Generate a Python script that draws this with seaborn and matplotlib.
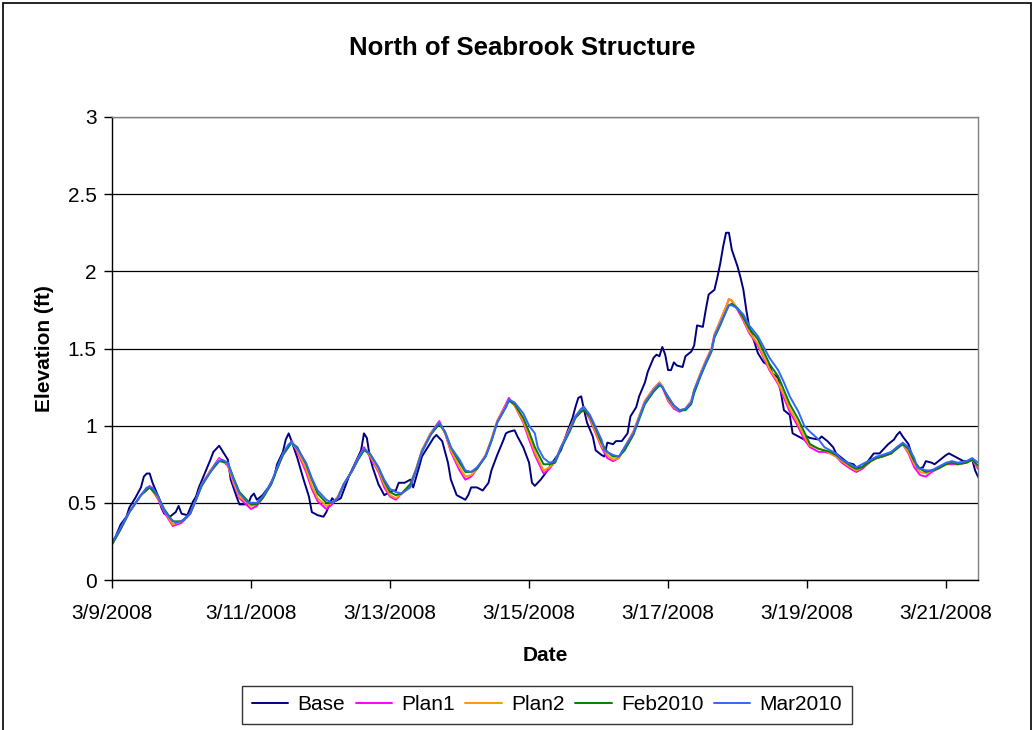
import matplotlib
matplotlib.use("Agg")
import matplotlib.pyplot as plt
from matplotlib.patches import Rectangle
from matplotlib.ticker import FuncFormatter, MultipleLocator
import numpy as np
import pandas as pd
import seaborn as sns

START = pd.Timestamp("2008-03-09 00:00")

# ---- Base: (hours after start, elevation ft) ----
base_hours = [0, 1, 3, 5, 6, 8, 10, 11, 12, 13, 14, 16, 17, 18, 20, 22, 23, 24, 26, 28,
              29, 30, 32, 34, 35, 37, 38, 40, 41, 43, 44, 47, 48, 49, 50, 52, 54, 56, 57, 59,
              60, 61, 62, 64, 66, 68, 69, 71, 73, 74, 76, 77, 79, 80, 82, 84, 86, 87, 88, 89,
              90, 92, 94, 95, 97, 98, 99, 101, 103, 104, 106, 107, 109, 111, 112, 114, 116, 117, 119, 121,
              122, 123, 124, 126, 128, 130, 131, 133, 135, 136, 137, 139, 140, 142, 144, 145, 146, 148, 150, 152,
              155, 157, 159, 160, 161, 162, 163, 164, 166, 167, 169, 170, 171, 173, 174, 176, 178, 179, 181, 182,
              184, 185, 187, 188, 189, 190, 191, 192, 193, 194, 195, 197, 198, 200, 201, 202, 204, 205, 206, 208,
              209, 210, 211, 212, 213, 214, 216, 217, 218, 219, 220, 222, 223, 225, 227, 228, 230, 231, 232, 234,
              235, 237, 239, 240, 241, 244, 245, 247, 249, 250, 252, 254, 256, 257, 259, 261, 263, 265, 266, 268,
              270, 271, 272, 273, 275, 276, 277, 278, 280, 281, 283, 284, 286, 288, 289, 291, 293, 294, 296, 297,
              298, 299, 300]
base_vals = [0.26, 0.27, 0.36, 0.41, 0.47, 0.53, 0.60, 0.67, 0.69, 0.69, 0.63, 0.54, 0.47, 0.43, 0.41, 0.44, 0.48, 0.43, 0.42, 0.51,
             0.54, 0.60, 0.69, 0.78, 0.83, 0.87, 0.84, 0.78, 0.65, 0.54, 0.49, 0.49, 0.54, 0.56, 0.52, 0.55, 0.60, 0.67, 0.75, 0.83,
             0.91, 0.95, 0.90, 0.79, 0.66, 0.54, 0.44, 0.42, 0.41, 0.44, 0.53, 0.51, 0.53, 0.58, 0.68, 0.76, 0.84, 0.95, 0.92, 0.80,
             0.73, 0.62, 0.55, 0.56, 0.58, 0.58, 0.63, 0.63, 0.65, 0.60, 0.73, 0.80, 0.86, 0.92, 0.94, 0.90, 0.76, 0.65, 0.55, 0.53,
             0.52, 0.55, 0.60, 0.60, 0.58, 0.63, 0.71, 0.81, 0.90, 0.95, 0.96, 0.97, 0.93, 0.86, 0.76, 0.63, 0.61, 0.65, 0.70, 0.76,
             0.84, 0.95, 1.05, 1.12, 1.18, 1.19, 1.10, 1.02, 0.93, 0.84, 0.81, 0.80, 0.89, 0.88, 0.90, 0.90, 0.95, 1.06, 1.12, 1.19,
             1.28, 1.35, 1.44, 1.46, 1.45, 1.51, 1.46, 1.36, 1.36, 1.41, 1.39, 1.38, 1.45, 1.48, 1.52, 1.65, 1.64, 1.75, 1.85, 1.88,
             1.96, 2.05, 2.16, 2.25, 2.25, 2.14, 2.03, 1.96, 1.88, 1.75, 1.64, 1.53, 1.47, 1.41, 1.39, 1.34, 1.31, 1.21, 1.10, 1.07,
             0.95, 0.93, 0.91, 0.93, 0.92, 0.91, 0.93, 0.90, 0.86, 0.82, 0.79, 0.76, 0.75, 0.73, 0.73, 0.77, 0.82, 0.82, 0.84, 0.88,
             0.91, 0.94, 0.96, 0.93, 0.88, 0.82, 0.76, 0.72, 0.73, 0.77, 0.76, 0.75, 0.78, 0.81, 0.82, 0.80, 0.78, 0.77, 0.77, 0.78,
             0.71, 0.67, 0.64]

# ---- Plan1 / Plan2 / Feb2010 share one output time step list ----
plan_hours = [0, 3, 6, 10, 13, 16, 18, 21, 24, 27, 29, 31, 34, 37, 40, 42, 44, 48, 50, 52,
              55, 57, 59, 62, 64, 67, 69, 71, 74, 76, 78, 80, 83, 85, 87, 89, 92, 94, 96, 98,
              100, 103, 105, 107, 110, 113, 115, 117, 120, 122, 124, 126, 129, 131, 133, 136, 137, 139, 142, 144,
              146, 149, 151, 153, 155, 158, 160, 162, 163, 165, 167, 169, 171, 173, 175, 177, 180, 182, 184, 187,
              189, 190, 192, 194, 196, 198, 200, 201, 203, 205, 207, 208, 210, 212, 213, 214, 216, 218, 220, 223,
              225, 227, 230, 232, 234, 237, 239, 241, 244, 246, 248, 250, 252, 255, 257, 259, 262, 264, 266, 269,
              271, 273, 275, 277, 279, 281, 283, 285, 288, 290, 292, 295, 297, 299]
plan1_vals = [0.23, 0.33, 0.44, 0.55, 0.61, 0.52, 0.44, 0.35, 0.37, 0.43, 0.52, 0.62, 0.71, 0.79, 0.74, 0.62, 0.53, 0.46, 0.48, 0.53,
              0.63, 0.72, 0.81, 0.90, 0.83, 0.70, 0.59, 0.51, 0.46, 0.49, 0.54, 0.62, 0.71, 0.79, 0.86, 0.80, 0.70, 0.60, 0.54, 0.52,
              0.56, 0.62, 0.72, 0.84, 0.95, 1.03, 0.95, 0.83, 0.71, 0.65, 0.67, 0.72, 0.81, 0.91, 1.03, 1.14, 1.18, 1.13, 1.02, 0.91,
              0.81, 0.69, 0.72, 0.77, 0.86, 0.98, 1.06, 1.10, 1.11, 1.04, 0.95, 0.86, 0.79, 0.77, 0.79, 0.86, 0.96, 1.06, 1.16, 1.24,
              1.28, 1.25, 1.16, 1.11, 1.09, 1.11, 1.16, 1.23, 1.33, 1.42, 1.50, 1.59, 1.68, 1.77, 1.82, 1.81, 1.75, 1.68, 1.60, 1.52,
              1.44, 1.36, 1.27, 1.18, 1.09, 0.99, 0.91, 0.86, 0.83, 0.83, 0.82, 0.80, 0.76, 0.72, 0.70, 0.72, 0.77, 0.79, 0.80, 0.82,
              0.86, 0.88, 0.82, 0.73, 0.68, 0.67, 0.70, 0.72, 0.75, 0.75, 0.75, 0.76, 0.78, 0.72]
plan2_vals = [0.23, 0.33, 0.44, 0.55, 0.60, 0.53, 0.45, 0.36, 0.38, 0.43, 0.52, 0.62, 0.71, 0.78, 0.75, 0.63, 0.54, 0.48, 0.49, 0.53,
              0.63, 0.72, 0.81, 0.89, 0.84, 0.72, 0.61, 0.53, 0.48, 0.50, 0.54, 0.62, 0.71, 0.79, 0.85, 0.81, 0.71, 0.62, 0.55, 0.53,
              0.56, 0.62, 0.72, 0.84, 0.95, 1.02, 0.95, 0.84, 0.73, 0.67, 0.68, 0.72, 0.81, 0.91, 1.03, 1.13, 1.17, 1.13, 1.03, 0.93,
              0.83, 0.71, 0.73, 0.77, 0.86, 0.98, 1.06, 1.11, 1.12, 1.05, 0.96, 0.87, 0.81, 0.78, 0.79, 0.86, 0.96, 1.06, 1.16, 1.24,
              1.28, 1.26, 1.17, 1.12, 1.10, 1.11, 1.16, 1.23, 1.33, 1.42, 1.50, 1.59, 1.68, 1.77, 1.82, 1.81, 1.76, 1.69, 1.61, 1.53,
              1.45, 1.37, 1.28, 1.20, 1.11, 1.01, 0.93, 0.87, 0.85, 0.84, 0.82, 0.80, 0.77, 0.73, 0.71, 0.73, 0.77, 0.79, 0.80, 0.82,
              0.86, 0.88, 0.83, 0.75, 0.70, 0.69, 0.71, 0.72, 0.75, 0.76, 0.75, 0.76, 0.78, 0.73]
feb2010_vals = [0.23, 0.33, 0.44, 0.55, 0.60, 0.54, 0.46, 0.38, 0.38, 0.43, 0.52, 0.61, 0.70, 0.77, 0.76, 0.66, 0.57, 0.49, 0.49, 0.53,
                0.62, 0.72, 0.81, 0.89, 0.86, 0.75, 0.65, 0.56, 0.50, 0.50, 0.53, 0.62, 0.71, 0.78, 0.84, 0.82, 0.73, 0.64, 0.57, 0.55,
                0.56, 0.62, 0.71, 0.83, 0.94, 1.01, 0.96, 0.86, 0.76, 0.70, 0.70, 0.72, 0.80, 0.90, 1.02, 1.12, 1.16, 1.14, 1.05, 0.96,
                0.86, 0.75, 0.75, 0.76, 0.85, 0.96, 1.05, 1.09, 1.10, 1.06, 0.98, 0.89, 0.83, 0.80, 0.80, 0.84, 0.94, 1.04, 1.14, 1.22,
                1.26, 1.25, 1.18, 1.13, 1.10, 1.10, 1.14, 1.21, 1.31, 1.40, 1.48, 1.57, 1.65, 1.74, 1.78, 1.79, 1.76, 1.70, 1.63, 1.56,
                1.48, 1.40, 1.32, 1.23, 1.14, 1.04, 0.96, 0.88, 0.85, 0.84, 0.83, 0.81, 0.78, 0.74, 0.72, 0.73, 0.77, 0.79, 0.80, 0.82,
                0.85, 0.88, 0.85, 0.77, 0.72, 0.70, 0.71, 0.72, 0.75, 0.76, 0.75, 0.76, 0.78, 0.74]

# ---- Mar2010 ----
mar_hours = [0, 3, 6, 10, 12, 14, 16, 18, 20, 22, 25, 27, 29, 31, 34, 36, 38, 40, 42, 44,
             47, 48, 50, 52, 55, 57, 59, 61, 62, 64, 67, 69, 71, 74, 76, 78, 80, 83, 85, 87,
             89, 92, 94, 96, 98, 100, 103, 105, 107, 110, 112, 113, 115, 117, 120, 122, 124, 126, 129, 131,
             133, 136, 137, 139, 142, 144, 146, 147, 149, 151, 153, 155, 158, 160, 162, 163, 165, 167, 169, 170,
             173, 175, 177, 180, 182, 184, 187, 189, 190, 192, 194, 196, 198, 200, 201, 203, 205, 207, 208, 210,
             212, 213, 214, 216, 218, 220, 223, 225, 227, 230, 232, 234, 237, 239, 241, 244, 246, 248, 250, 252,
             255, 257, 259, 262, 264, 266, 269, 271, 273, 275, 277, 278, 281, 283, 285, 288, 290, 292, 295, 297,
             299]
mar2010_vals = [0.24, 0.34, 0.44, 0.55, 0.60, 0.60, 0.54, 0.45, 0.40, 0.37, 0.39, 0.43, 0.52, 0.62, 0.70, 0.76, 0.78, 0.76, 0.65, 0.56,
                0.50, 0.50, 0.50, 0.54, 0.63, 0.73, 0.82, 0.88, 0.89, 0.85, 0.76, 0.66, 0.58, 0.52, 0.50, 0.53, 0.62, 0.71, 0.79, 0.85,
                0.82, 0.73, 0.65, 0.59, 0.57, 0.56, 0.60, 0.71, 0.83, 0.94, 1.00, 1.02, 0.96, 0.86, 0.78, 0.71, 0.70, 0.73, 0.80, 0.90,
                1.02, 1.12, 1.17, 1.15, 1.08, 1.00, 0.95, 0.86, 0.79, 0.76, 0.77, 0.86, 0.97, 1.06, 1.11, 1.12, 1.07, 0.99, 0.91, 0.84,
                0.81, 0.80, 0.86, 0.95, 1.05, 1.15, 1.23, 1.27, 1.25, 1.19, 1.13, 1.10, 1.11, 1.15, 1.23, 1.32, 1.41, 1.49, 1.58, 1.66,
                1.74, 1.78, 1.78, 1.76, 1.72, 1.65, 1.58, 1.51, 1.44, 1.36, 1.28, 1.19, 1.09, 1.00, 0.96, 0.91, 0.86, 0.84, 0.82, 0.78,
                0.75, 0.73, 0.75, 0.78, 0.80, 0.81, 0.83, 0.86, 0.89, 0.86, 0.79, 0.73, 0.71, 0.71, 0.73, 0.76, 0.77, 0.76, 0.77, 0.79,
                0.76]

series_names = ["Base", "Plan1", "Plan2", "Feb2010", "Mar2010"]
series_colors = ["#000080", "#FF00FF", "#FF9900", "#008000", "#3366FF"]

frames = []
for name, hrs, vals in [("Base", base_hours, base_vals),
                        ("Plan1", plan_hours, plan1_vals),
                        ("Plan2", plan_hours, plan2_vals),
                        ("Feb2010", plan_hours, feb2010_vals),
                        ("Mar2010", mar_hours, mar2010_vals)]:
    frames.append(pd.DataFrame({
        "Date": START + pd.to_timedelta(np.asarray(hrs, dtype=float), unit="h"),
        "Elevation": vals,
        "Series": name,
    }))
df = pd.concat(frames, ignore_index=True)

sns.set_style("ticks")
plt.rcParams["font.family"] = ["Liberation Sans", "DejaVu Sans"]
plt.rcParams["text.color"] = "black"
plt.rcParams["axes.labelcolor"] = "black"
plt.rcParams["xtick.color"] = "black"
plt.rcParams["ytick.color"] = "black"

fig = plt.figure(figsize=(10.34, 7.30), dpi=100)
ax = fig.add_axes([112 / 1034, 1 - 580 / 730, (978 - 112) / 1034, (580 - 117) / 730])

sns.lineplot(data=df, x="Date", y="Elevation", hue="Series", hue_order=series_names,
             palette=dict(zip(series_names, series_colors)), linewidth=1.4,
             estimator=None, ax=ax, legend=True)

# axes limits and ticks
ax.set_ylim(0, 3)
ax.yaxis.set_major_locator(MultipleLocator(0.5))
ax.yaxis.set_major_formatter(FuncFormatter(lambda v, p: f"{v:g}"))
ax.set_xlim(START, START + pd.Timedelta(hours=299))
ticks = [START + pd.Timedelta(days=d) for d in range(0, 13, 2)]
ax.set_xticks(ticks)
ax.set_xticklabels([f"{t.month}/{t.day}/{t.year}" for t in ticks])

ax.grid(axis="y", color="black", linewidth=0.9)
ax.grid(axis="x", visible=False)
ax.set_axisbelow(True)

for side in ["top", "right"]:
    ax.spines[side].set_color("#808080")
    ax.spines[side].set_linewidth(1.0)
for side in ["left", "bottom"]:
    ax.spines[side].set_color("black")
    ax.spines[side].set_linewidth(1.0)

ax.tick_params(axis="both", direction="out", length=6, width=1, color="black",
               labelsize=15, labelcolor="black", pad=5)
ax.tick_params(axis="x", pad=11)

ax.set_xlabel("Date", fontsize=15, fontweight="bold", labelpad=17)
ax.set_ylabel("Elevation (ft)", fontsize=15, fontweight="bold", labelpad=10)
fig.text(522 / 1034, 1 - 48 / 730, "North of Seabrook Structure", ha="center", va="center",
         fontsize=18.5, fontweight="bold")

# legend across the bottom
handles, labels = ax.get_legend_handles_labels()
ax.legend_.remove()
for h in handles:
    h.set_linewidth(1.4)
leg = fig.legend(handles, labels, loc="center", bbox_to_anchor=(547 / 1034, 1 - 705 / 730),
                 ncol=5, frameon=True, fontsize=15, handlelength=1.75, handletextpad=0.45,
                 columnspacing=0.5, borderpad=0.45, fancybox=False, borderaxespad=0)
leg.get_frame().set_edgecolor("black")
leg.get_frame().set_linewidth(1.0)

# outer chart border
fig.patches.append(Rectangle((3 / 1034, -0.05), 1 - 6 / 1034, 1.05 - 3 / 730, transform=fig.transFigure,
                             fill=False, edgecolor="black", linewidth=1.2))

fig.savefig("out.png", dpi=100, facecolor="white")
